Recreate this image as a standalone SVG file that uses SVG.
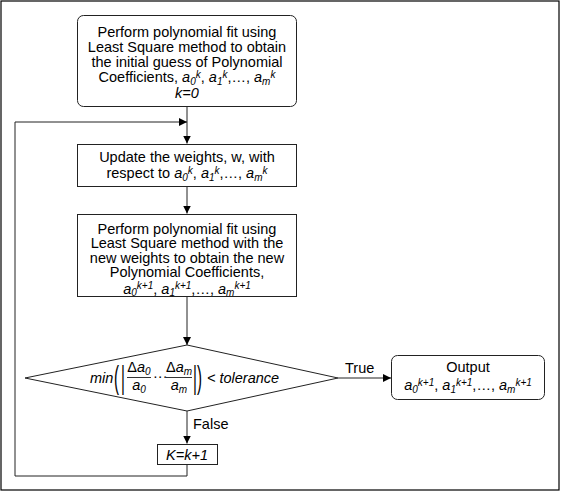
<svg xmlns="http://www.w3.org/2000/svg" width="561" height="492" viewBox="0 0 561 492">
<style>
.t{font-family:"Liberation Sans",Arial,sans-serif;font-size:14.5px;fill:#000;text-anchor:middle}
.l{text-anchor:start}
.i{font-style:italic}
.n{font-style:normal}
.s{font-size:10px}
.b{fill:#fff;stroke:#222;stroke-width:1}
.c{fill:none;stroke:#222;stroke-width:1}
.big{font-size:15px;font-style:normal}
</style>
<defs>
<marker id="ar" markerUnits="userSpaceOnUse" markerWidth="9" markerHeight="8" refX="8" refY="4" orient="auto">
<path d="M0,0 L8,4 L0,8 Z" fill="#000"/>
</marker>
</defs>
<rect x="1" y="1" width="558" height="489" fill="#fff" stroke="#000" stroke-width="1.2"/>
<g id="connectors">
<line class="c" x1="187" y1="107" x2="187" y2="143.5" marker-end="url(#ar)"/>
<polyline class="c" points="187,465 187,476 15,476 15,122 187,122" marker-end="url(#ar)"/>
<line class="c" x1="187" y1="186" x2="187" y2="213.5" marker-end="url(#ar)"/>
<line class="c" x1="187" y1="297" x2="187" y2="345" marker-end="url(#ar)"/>
<line class="c" x1="338" y1="378" x2="391" y2="378" marker-end="url(#ar)"/>
<line class="c" x1="187" y1="411" x2="187" y2="443.5" marker-end="url(#ar)"/>
<text class="t l" x="345" y="373">True</text>
<text class="t l" x="193" y="429">False</text>
</g>
<g id="init">
<rect class="b" x="77.5" y="15.5" width="219" height="91" rx="6"/>
<text class="t" x="187" y="37">Perform polynomial fit using</text>
<text class="t" x="187" y="52">Least Square method to obtain</text>
<text class="t" x="187" y="67">the initial guess of Polynomial</text>
<text class="t" x="187" y="82">Coefficients, <tspan class="i">a<tspan class="s" dy="2.5">0</tspan><tspan class="s" dy="-7">k</tspan></tspan><tspan dy="4.5">, </tspan><tspan class="i">a<tspan class="s" dy="2.5">1</tspan><tspan class="s" dy="-7">k</tspan></tspan><tspan dy="4.5">,…, </tspan><tspan class="i">a<tspan class="s" dy="2.5">m</tspan><tspan class="s" dy="-7">k</tspan></tspan></text>
<text class="t i" x="187" y="98">k=0</text>
</g>
<g id="update">
<rect class="b" x="77.5" y="144.5" width="219" height="42"/>
<text class="t" x="187" y="162">Update the weights, w, with</text>
<text class="t" x="187" y="178">respect to <tspan class="i">a<tspan class="s" dy="2.5">0</tspan><tspan class="s" dy="-7">k</tspan></tspan><tspan dy="4.5">, </tspan><tspan class="i">a<tspan class="s" dy="2.5">1</tspan><tspan class="s" dy="-7">k</tspan></tspan><tspan dy="4.5">,…, </tspan><tspan class="i">a<tspan class="s" dy="2.5">m</tspan><tspan class="s" dy="-7">k</tspan></tspan></text>
</g>
<g id="refit">
<rect class="b" x="77.5" y="214.5" width="219" height="82"/>
<text class="t" x="187" y="233.5">Perform polynomial fit using</text>
<text class="t" x="187" y="248">Least Square method with the</text>
<text class="t" x="187" y="262.5">new weights to obtain the new</text>
<text class="t" x="187" y="277">Polynomial Coefficients,</text>
<text class="t" x="187" y="293.5"><tspan class="i">a<tspan class="s" dy="2">0</tspan><tspan class="s" dy="-6.5">k+1</tspan></tspan><tspan dy="4.5">, </tspan><tspan class="i">a<tspan class="s" dy="2">1</tspan><tspan class="s" dy="-6.5">k+1</tspan></tspan><tspan dy="4.5">,…, </tspan><tspan class="i">a<tspan class="s" dy="2">m</tspan><tspan class="s" dy="-6.5">k+1</tspan></tspan></text>
</g>
<g id="check">
<polygon class="b" points="187,345 338,378 187,411 25,378"/>
<text class="t l i" x="90" y="383">min</text>
<text class="t l big" transform="translate(114,388) scale(1,2.1)">(</text>
<text class="t l big" transform="translate(121,388) scale(1,2.1)">|</text>
<text class="t" x="139" y="372"><tspan class="n">Δ</tspan><tspan class="i">a</tspan><tspan class="s i" dy="2.5">0</tspan></text>
<line x1="127" y1="377.5" x2="151" y2="377.5" stroke="#000" stroke-width="0.8"/>
<text class="t i" x="139" y="390">a<tspan class="s" dy="2.5">0</tspan></text>
<text class="t l" x="153" y="381">···</text>
<text class="t" x="179" y="372"><tspan class="n">Δ</tspan><tspan class="i">a</tspan><tspan class="s i" dy="2.5">m</tspan></text>
<line x1="166" y1="377.5" x2="192" y2="377.5" stroke="#000" stroke-width="0.8"/>
<text class="t i" x="179" y="390">a<tspan class="s" dy="2.5">m</tspan></text>
<text class="t l big" transform="translate(193,388) scale(1,2.1)">|</text>
<text class="t l big" transform="translate(197,388) scale(1,2.1)">)</text>
<text class="t l i" x="207" y="383">&lt; tolerance</text>
</g>
<g id="output">
<rect class="b" x="391.5" y="355.5" width="153" height="44" rx="6"/>
<text class="t" x="468" y="372">Output</text>
<text class="t" x="468" y="390"><tspan class="i">a<tspan class="s" dy="2.5">0</tspan><tspan class="s" dy="-7">k+1</tspan></tspan><tspan dy="4.5">, </tspan><tspan class="i">a<tspan class="s" dy="2.5">1</tspan><tspan class="s" dy="-7">k+1</tspan></tspan><tspan dy="4.5">,…, </tspan><tspan class="i">a<tspan class="s" dy="2.5">m</tspan><tspan class="s" dy="-7">k+1</tspan></tspan></text>
</g>
<g id="increment">
<rect class="b" x="157.5" y="444.5" width="60" height="20"/>
<text class="t i" x="187" y="459.5">K=k+1</text>
</g>
</svg>
